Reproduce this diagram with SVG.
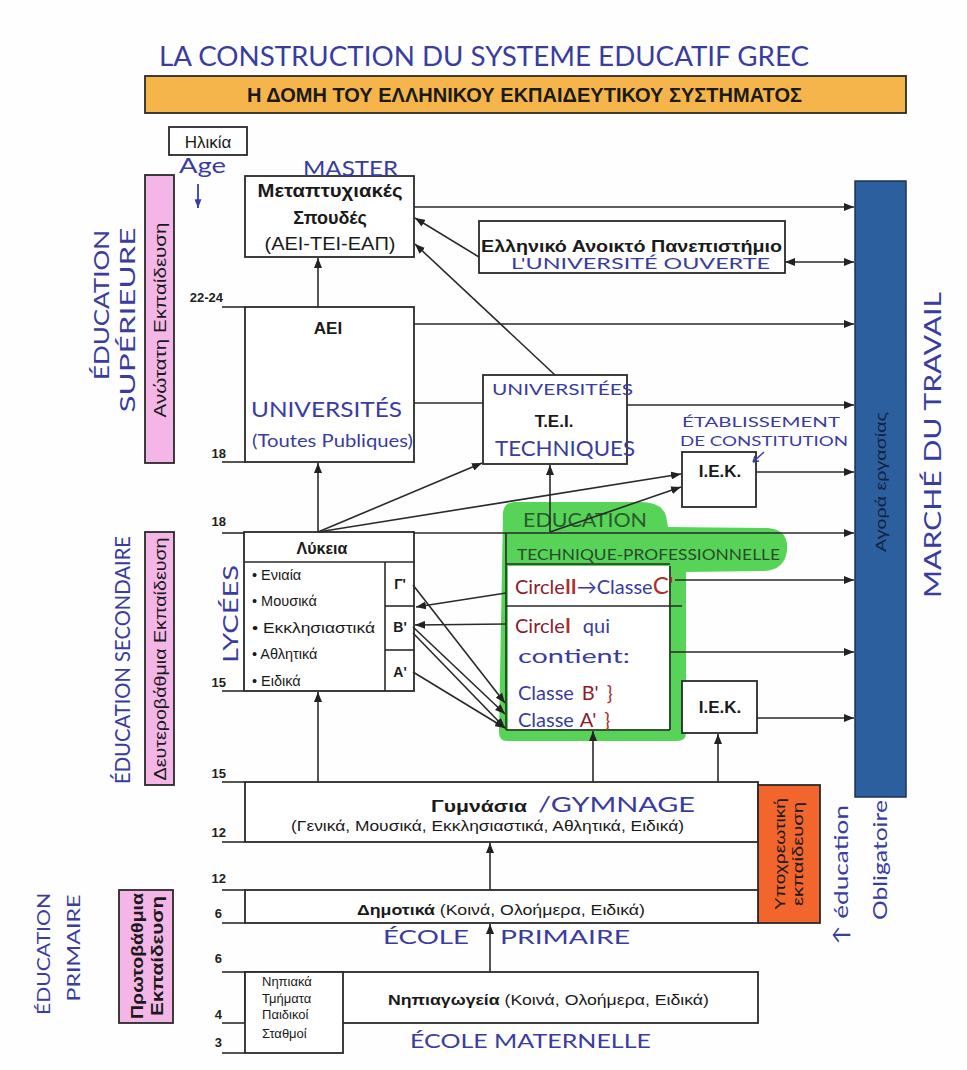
<svg xmlns="http://www.w3.org/2000/svg" width="967" height="1070" viewBox="0 0 967 1070">
<defs>
<marker id="ah" viewBox="0 0 10 8" refX="10" refY="4" markerWidth="10" markerHeight="8" markerUnits="userSpaceOnUse" orient="auto-start-reverse"><path d="M0,0 L10,4 L0,8 z" fill="#222"/></marker>
<marker id="ahb" viewBox="0 0 10 8" refX="10" refY="4" markerWidth="9" markerHeight="7" markerUnits="userSpaceOnUse" orient="auto"><path d="M0,0 L10,4 L0,8 z" fill="#3a3ca0"/></marker>
</defs>
<style>
.box{fill:#fff;stroke:#2a2a2a;stroke-width:1.8}
.ln{stroke:#2a2a2a;stroke-width:1.6;fill:none}
.ar{stroke:#2a2a2a;stroke-width:1.6;fill:none;marker-end:url(#ah)}
.g{font-family:"Liberation Sans",Arial,sans-serif;fill:#1a1a1a}
.b{font-weight:bold}
.c{text-anchor:middle}
.hw{font-family:"Lato","Liberation Sans",sans-serif;fill:#3a3ca0;font-weight:400}
.num{font-family:"Liberation Sans",Arial,sans-serif;font-size:13px;font-weight:bold;fill:#222;text-anchor:end}
.red{fill:#8c1b2b}
.red2{fill:#b0302a}
</style>
<rect width="967" height="1070" fill="#fefefe"/>

<!-- title -->
<g id="title">
<text class="hw" x="159" y="66" font-size="27" textLength="650" lengthAdjust="spacingAndGlyphs">LA CONSTRUCTION DU SYSTEME EDUCATIF GREC</text>
<rect x="145" y="76" width="761" height="37" fill="#f6b54a" stroke="#2a2a2a" stroke-width="1.8"/>
<text class="g b" x="247" y="102" font-size="20" textLength="555" lengthAdjust="spacingAndGlyphs">Η ΔΟΜΗ ΤΟΥ ΕΛΛΗΝΙΚΟΥ ΕΚΠΑΙΔΕΥΤΙΚΟΥ ΣΥΣΤΗΜΑΤΟΣ</text>
</g>

<g id="age">
<rect class="box" x="169" y="127" width="78" height="28"/>
<text class="g c" x="208" y="148" font-size="17">Ηλικία</text>
<text class="hw" x="179" y="173" font-size="21" textLength="47" lengthAdjust="spacingAndGlyphs">Age</text>
<line x1="198" y1="184" x2="198" y2="208" stroke="#3a3ca0" stroke-width="1.8" marker-end="url(#ahb)"/>
</g>

<!-- left side labels -->
<g id="sup-label">
<rect x="145" y="175" width="29" height="288" fill="#f3b6e6" stroke="#2a2a2a" stroke-width="1.8"/>
<text class="g c" transform="translate(160,320) rotate(-90)" dy="6" font-size="17" textLength="195" lengthAdjust="spacingAndGlyphs">Ανώτατη Εκπαίδευση</text>
<text class="hw c" transform="translate(102,305) rotate(-90)" dy="7" font-size="21" textLength="150" lengthAdjust="spacingAndGlyphs">ÉDUCATION</text>
<text class="hw c" transform="translate(128,320) rotate(-90)" dy="7" font-size="21" textLength="185" lengthAdjust="spacingAndGlyphs">SUPÉRIEURE</text>
</g>
<g id="sec-label">
<rect x="145" y="532" width="29" height="253" fill="#f3b6e6" stroke="#2a2a2a" stroke-width="1.8"/>
<text class="g c" transform="translate(160,659) rotate(-90)" dy="6" font-size="17" textLength="243" lengthAdjust="spacingAndGlyphs">Δευτεροβάθμια Εκπαίδευση</text>
<text class="hw c" transform="translate(123,660) rotate(-90)" dy="7" font-size="21" textLength="248" lengthAdjust="spacingAndGlyphs">ÉDUCATION SECONDAIRE</text>
</g>
<g id="prim-label">
<rect x="119" y="890" width="54" height="133" fill="#f3b6e6" stroke="#2a2a2a" stroke-width="1.8"/>
<text class="g c b" transform="translate(137,956) rotate(-90)" dy="6" font-size="16" textLength="126" lengthAdjust="spacingAndGlyphs">Πρωτοβάθμια</text>
<text class="g c b" transform="translate(157,956) rotate(-90)" dy="6" font-size="16" textLength="120" lengthAdjust="spacingAndGlyphs">Εκπαίδευση</text>
<text class="hw c" transform="translate(44,954) rotate(-90)" dy="6" font-size="18" textLength="122" lengthAdjust="spacingAndGlyphs">ÉDUCATION</text>
<text class="hw c" transform="translate(74,948) rotate(-90)" dy="6" font-size="18" textLength="107" lengthAdjust="spacingAndGlyphs">PRIMAIRE</text>
</g>

<!-- age numbers -->
<g id="ages">
<text class="num" x="223" y="302">22-24</text>
<text class="num" x="226" y="458">18</text>
<text class="num" x="226" y="526">18</text>
<text class="num" x="226" y="687">15</text>
<text class="num" x="226" y="778">15</text>
<text class="num" x="226" y="837">12</text>
<text class="num" x="226" y="883">12</text>
<text class="num" x="222" y="918">6</text>
<text class="num" x="222" y="963">6</text>
<text class="num" x="222" y="1019">4</text>
<text class="num" x="222" y="1047">3</text>
</g>

<!-- nodes -->
<g id="master">
<rect class="box" x="245" y="176" width="169" height="81"/>
<text class="g b c" x="330" y="197" font-size="18" textLength="145" lengthAdjust="spacingAndGlyphs">Μεταπτυχιακές</text>
<text class="g b c" x="330" y="224" font-size="18">Σπουδές</text>
<text class="g c" x="330" y="250" font-size="18" textLength="131" lengthAdjust="spacingAndGlyphs">(ΑΕΙ-ΤΕΙ-ΕΑΠ)</text>
<text class="hw" x="303" y="176" font-size="21" textLength="95" lengthAdjust="spacingAndGlyphs">MASTER</text>
</g>

<g id="eap">
<rect class="box" x="479" y="221" width="306" height="52"/>
<text class="g b" x="481" y="252" font-size="17" textLength="301" lengthAdjust="spacingAndGlyphs">Ελληνικό Ανοικτό Πανεπιστήμιο</text>
<text class="hw" x="511" y="269" font-size="15" textLength="259" lengthAdjust="spacingAndGlyphs">L'UNIVERSITÉ OUVERTE</text>
</g>

<g id="aei">
<rect class="box" x="245" y="307" width="169" height="155"/>
<text class="g b c" x="328" y="334" font-size="17">ΑΕΙ</text>
<text class="hw" x="251" y="417" font-size="22" textLength="151" lengthAdjust="spacingAndGlyphs">UNIVERSITÉS</text>
<text class="hw" x="252" y="447" font-size="18" textLength="161" lengthAdjust="spacingAndGlyphs">(Toutes Publiques)</text>
</g>

<g id="tei">
<rect class="box" x="483" y="375" width="144" height="89"/>
<text class="hw" x="492" y="395" font-size="15" textLength="141" lengthAdjust="spacingAndGlyphs">UNIVERSITÉES</text>
<text class="g b c" x="554" y="427" font-size="17">Τ.Ε.Ι.</text>
<text class="hw" x="495" y="456" font-size="21" textLength="140" lengthAdjust="spacingAndGlyphs">TECHNIQUES</text>
</g>

<g id="iek1">
<rect class="box" x="682" y="452" width="74" height="55"/>
<text class="g b c" x="720" y="477" font-size="17">Ι.Ε.Κ.</text>
<text class="hw" x="682" y="427" font-size="14" textLength="158" lengthAdjust="spacingAndGlyphs">ÉTABLISSEMENT</text>
<text class="hw" x="680" y="446" font-size="14" textLength="168" lengthAdjust="spacingAndGlyphs">DE CONSTITUTION</text>
<path d="M764,452 L753,462 M753,462 L759,461 M753,462 L755,456" stroke="#3a3ca0" stroke-width="1.4" fill="none"/>
</g>

<g id="lykeia">
<rect class="box" x="244" y="532" width="170" height="159"/>
<line class="ln" x1="244" y1="562" x2="414" y2="562"/>
<line class="ln" x1="385" y1="562" x2="385" y2="691"/>
<line class="ln" x1="385" y1="606" x2="414" y2="606"/>
<line class="ln" x1="385" y1="650" x2="414" y2="650"/>
<text class="g b c" x="322" y="554" font-size="16">Λύκεια</text>
<text class="g" x="252" y="580" font-size="14.5">• Ενιαία</text>
<text class="g" x="252" y="606" font-size="14.5">• Μουσικά</text>
<text class="g" x="252" y="633" font-size="14.5" textLength="123" lengthAdjust="spacingAndGlyphs">• Εκκλησιαστικά</text>
<text class="g" x="252" y="659" font-size="14.5">• Αθλητικά</text>
<text class="g" x="252" y="686" font-size="14.5">• Ειδικά</text>
<text class="g b c" x="400" y="589" font-size="14">Γ'</text>
<text class="g b c" x="400" y="632" font-size="14">Β'</text>
<text class="g b c" x="400" y="677" font-size="14">Α'</text>
<text class="hw c" transform="translate(231,614) rotate(-90)" dy="7" font-size="21" textLength="98" lengthAdjust="spacingAndGlyphs">LYCÉES</text>
</g>

<g id="epal">
<path d="M503,514 Q503,502 516,502 L640,502 Q662,502 666,516 L668,527 L768,528 Q789,530 787,550 Q785,570 764,571 L686,572 L686,733 Q686,741 677,741 L507,741 Q499,741 499,732 Z" fill="#57d457"/>
<rect x="508" y="566" width="161" height="163" fill="#fff"/>
<line class="ln" x1="506" y1="533" x2="506" y2="730"/>
<line class="ln" x1="670" y1="566" x2="670" y2="730"/>
<line class="ln" x1="506" y1="564" x2="670" y2="564"/>
<line class="ln" x1="506" y1="606" x2="682" y2="606"/>
<line class="ln" x1="506" y1="730" x2="670" y2="730"/>
<text x="523" y="527" font-family="Lato,'Liberation Sans',sans-serif" font-size="20" fill="#2b5a30" textLength="124" lengthAdjust="spacingAndGlyphs">EDUCATION</text>
<text x="517" y="560" font-family="Lato,'Liberation Sans',sans-serif" font-size="15" fill="#2b4a2e" textLength="263" lengthAdjust="spacingAndGlyphs">TECHNIQUE-PROFESSIONNELLE</text>
<text x="515" y="594" font-family="Lato,'Liberation Sans',sans-serif" font-size="20"><tspan class="red">Circle</tspan><tspan class="red2" font-weight="bold">II</tspan><tspan fill="#3a3ca0">→Classe</tspan><tspan class="red2" font-size="24">C'</tspan></text>
<text x="515" y="633" font-family="Lato,'Liberation Sans',sans-serif" font-size="20"><tspan class="red">Circle</tspan><tspan class="red2" font-weight="bold">I</tspan><tspan fill="#3a3ca0" dx="12">qui</tspan></text>
<text class="hw" x="518" y="663" font-size="20" textLength="112" lengthAdjust="spacingAndGlyphs">contient:</text>
<text x="518" y="700" font-family="Lato,'Liberation Sans',sans-serif" font-size="20"><tspan fill="#3a3ca0">Classe</tspan><tspan class="red" dx="8">B'</tspan><tspan class="red2" dx="8">}</tspan></text>
<text x="518" y="727" font-family="Lato,'Liberation Sans',sans-serif" font-size="20"><tspan fill="#3a3ca0">Classe</tspan><tspan class="red" dx="6">A'</tspan><tspan class="red2" dx="8">}</tspan></text>
</g>

<g id="iek2">
<rect class="box" x="682" y="681" width="75" height="52"/>
<text class="g b c" x="720" y="713" font-size="17">Ι.Ε.Κ.</text>
</g>

<g id="agora">
<rect x="855" y="181" width="51" height="616" fill="#2b5f9e" stroke="#1d3556" stroke-width="1.5"/>
<text class="c" transform="translate(881,482) rotate(-90)" dy="5" font-family="Liberation Sans,Arial,sans-serif" font-size="15" fill="#13233d" textLength="140" lengthAdjust="spacingAndGlyphs">Αγορά εργασίας</text>
<text class="hw c" transform="translate(933,445) rotate(-90)" dy="8" font-size="24" textLength="306" lengthAdjust="spacingAndGlyphs">MARCHÉ DU TRAVAIL</text>
</g>

<g id="gymnasia">
<rect class="box" x="245" y="782" width="513" height="60"/>
<text class="g b" x="431" y="812" font-size="16" textLength="96" lengthAdjust="spacingAndGlyphs">Γυμνάσια</text>
<text class="hw" x="538" y="812" font-size="21" textLength="157" lengthAdjust="spacingAndGlyphs">/GYMNAGE</text>
<text class="g" x="291" y="831" font-size="15" textLength="393" lengthAdjust="spacingAndGlyphs">(Γενικά, Μουσικά, Εκκλησιαστικά, Αθλητικά, Ειδικά)</text>
</g>

<g id="ypoxr">
<rect x="758" y="785" width="62" height="138" fill="#f2652c" stroke="#2a2a2a" stroke-width="1.8"/>
<text class="g c" transform="translate(780,854) rotate(-90)" dy="5" font-size="15" textLength="112" lengthAdjust="spacingAndGlyphs">Υποχρεωτική</text>
<text class="g c" transform="translate(798,854) rotate(-90)" dy="5" font-size="15" textLength="104" lengthAdjust="spacingAndGlyphs">εκπαίδευση</text>
<text class="hw c" transform="translate(841,875) rotate(-90)" dy="7" font-size="20" textLength="140" lengthAdjust="spacingAndGlyphs">↑ éducation</text>
<text class="hw c" transform="translate(880,860) rotate(-90)" dy="7" font-size="20" textLength="120" lengthAdjust="spacingAndGlyphs">Obligatoire</text>
</g>

<g id="dimotika">
<rect class="box" x="245" y="890" width="513" height="33"/>
<text class="g" x="357" y="915" font-size="15" textLength="288" lengthAdjust="spacingAndGlyphs"><tspan font-weight="bold">Δημοτικά</tspan> (Κοινά, Ολοήμερα, Ειδικά)</text>
<text class="hw" x="383" y="944" font-size="19" textLength="86" lengthAdjust="spacingAndGlyphs">ÉCOLE</text>
<text class="hw" x="500" y="944" font-size="19" textLength="130" lengthAdjust="spacingAndGlyphs">PRIMAIRE</text>
</g>

<g id="nipiagogeia">
<rect class="box" x="245" y="972" width="513" height="51"/>
<rect class="box" x="245" y="972" width="98" height="81"/>
<text class="g" x="262" y="986" font-size="13">Νηπιακά</text>
<text class="g" x="262" y="1003" font-size="13">Τμήματα</text>
<text class="g" x="262" y="1019" font-size="13">Παιδικοί</text>
<text class="g" x="262" y="1038" font-size="13">Σταθμοί</text>
<text class="g" x="388" y="1005" font-size="15" textLength="321" lengthAdjust="spacingAndGlyphs"><tspan font-weight="bold">Νηπιαγωγεία</tspan> (Κοινά, Ολοήμερα, Ειδικά)</text>
<text class="hw" x="410" y="1048" font-size="19" textLength="241" lengthAdjust="spacingAndGlyphs">ÉCOLE MATERNELLE</text>
</g>

<!-- connectors -->
<g id="connectors">
<line class="ln" x1="222" y1="307" x2="245" y2="307"/>
<line class="ln" x1="222" y1="462" x2="245" y2="462"/>
<line class="ln" x1="222" y1="533" x2="244" y2="533"/>
<line class="ln" x1="222" y1="691" x2="244" y2="691"/>
<line class="ln" x1="222" y1="782" x2="245" y2="782"/>
<line class="ln" x1="222" y1="842" x2="245" y2="842"/>
<line class="ln" x1="222" y1="890" x2="245" y2="890"/>
<line class="ln" x1="222" y1="923" x2="245" y2="923"/>
<line class="ln" x1="222" y1="972" x2="245" y2="972"/>
<line class="ln" x1="222" y1="1023" x2="245" y2="1023"/>
<line class="ln" x1="222" y1="1053" x2="245" y2="1053"/>

<line class="ar" x1="414" y1="207" x2="854" y2="207"/>
<line class="ar" x1="785" y1="262" x2="854" y2="262" marker-start="url(#ah)"/>
<line class="ar" x1="414" y1="324" x2="854" y2="324"/>
<line class="ar" x1="627" y1="405" x2="854" y2="405"/>
<line class="ar" x1="756" y1="472" x2="854" y2="472"/>
<line class="ar" x1="414" y1="533" x2="854" y2="533"/>
<line class="ar" x1="675" y1="580" x2="854" y2="580"/>
<line class="ar" x1="670" y1="652" x2="854" y2="652"/>
<line class="ar" x1="757" y1="718" x2="854" y2="718"/>

<line class="ar" x1="479" y1="257" x2="415" y2="218"/>
<line class="ar" x1="555" y1="375" x2="415" y2="244"/>
<line class="ln" x1="414" y1="403" x2="483" y2="403"/>

<line class="ar" x1="318" y1="307" x2="318" y2="258"/>
<line class="ar" x1="318" y1="532" x2="318" y2="463"/>
<line class="ar" x1="318" y1="532" x2="482" y2="463"/>
<line class="ar" x1="318" y1="532" x2="681" y2="474"/>
<line class="ar" x1="550" y1="532" x2="550" y2="465"/>
<line class="ar" x1="550" y1="532" x2="681" y2="487"/>

<line class="ar" x1="506" y1="593" x2="416" y2="607"/>
<line class="ar" x1="506" y1="624" x2="415" y2="625"/>
<line class="ar" x1="413" y1="585" x2="505" y2="703"/>
<line class="ar" x1="413" y1="627" x2="505" y2="714"/>
<line class="ar" x1="413" y1="633" x2="505" y2="728"/>
<line class="ar" x1="413" y1="672" x2="505" y2="728"/>

<line class="ar" x1="318" y1="782" x2="318" y2="692"/>
<line class="ar" x1="593" y1="782" x2="593" y2="731"/>
<line class="ar" x1="718" y1="782" x2="718" y2="734"/>
<line class="ar" x1="490" y1="890" x2="490" y2="843"/>
<line class="ar" x1="490" y1="972" x2="490" y2="924"/>
</g>
</svg>
